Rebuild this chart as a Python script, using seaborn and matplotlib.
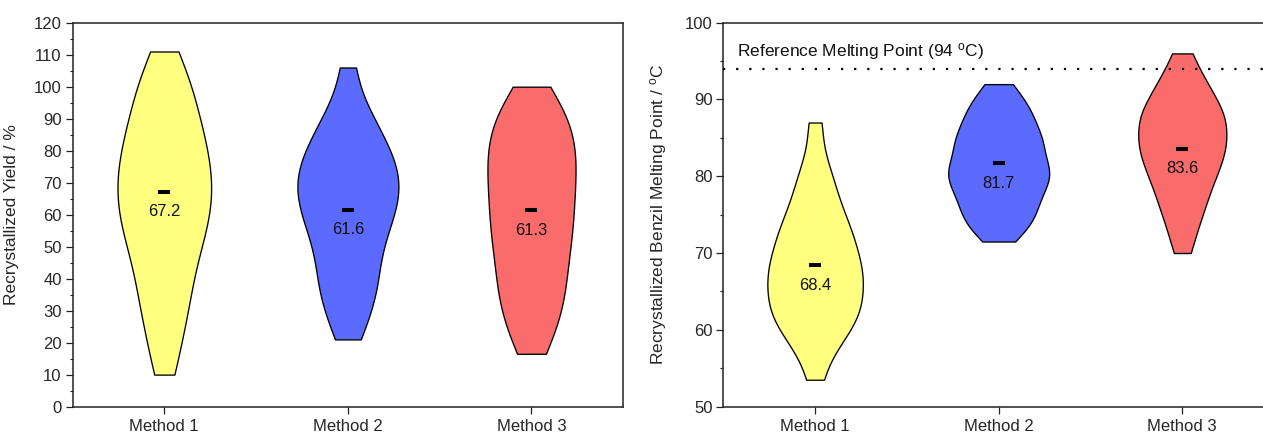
import numpy as np
import pandas as pd
import matplotlib
matplotlib.use("Agg")
import matplotlib.pyplot as plt
from matplotlib.ticker import MultipleLocator
import seaborn as sns

# ---------------- data ----------------
methods = ["Method 1", "Method 2", "Method 3"]

yield_m1 = [10, 18, 24, 29, 33, 37, 41, 44, 48, 51, 53, 56, 58, 60, 63, 65, 67, 69, 71, 73,
            76, 78, 80, 83, 85, 88, 91, 94, 98, 101, 105, 111]
yield_m2 = [21, 26, 31, 34, 37, 40, 43, 46, 49, 52, 54, 56, 59, 61, 62, 64, 66, 68, 69,
            71, 73, 75, 76, 78, 80, 83, 85, 88, 91, 96, 106]
yield_m3 = [16.5, 22, 26, 30, 33, 36, 39, 42, 45, 48, 51, 53, 56, 58, 61, 63, 66, 68,
            71, 73, 75, 78, 80, 82, 85, 87, 90, 92, 96, 100]
yield_means = [67.2, 61.6, 61.3]

mp_m1 = [53.5, 57, 58, 59.5, 60.5, 61, 62, 62.5, 63, 64, 64.5, 65.5, 66, 66.5, 67.5,
         68, 68.5, 69.5, 70, 71, 72, 72.5, 73.5, 74.5, 75.5, 77, 78.5, 80, 82.5, 87]
mp_m2 = [71.5, 73, 73.5, 74.5, 75, 76, 76.5, 77, 78, 78.5, 79, 79.5, 80, 80.5, 81,
         81.5, 82, 82.5, 83.5, 84, 84.5, 85, 85.5, 86.5, 87, 88, 88.5, 89.5, 90.5, 92]
mp_m3 = [70, 72.5, 74, 75.5, 76.5, 77.5, 78.5, 79.5, 80, 81, 81.5, 82, 83, 83.5, 84,
         84.5, 85, 85.5, 86.5, 87, 87.5, 88, 88.5, 89, 90, 91, 91.5, 92.5, 94, 96]
mp_means = [68.4, 81.7, 83.6]

ref_mp = 94
ref_label = "Reference Melting Point (94 $^{\\mathrm{o}}$C)"

yield_label = "Recrystallized Yield / %"
mp_label = "Recrystallized Benzil Melting Point / $^{\\mathrm{o}}$C"

# ---------------- style ----------------
colors = ["#FFFF80", "#5B6BFF", "#FA6B6B"]
yield_widths = [0.51, 0.55, 0.48]
mp_widths = [0.52, 0.55, 0.48]

sns.set_style("ticks")
plt.rcParams["font.family"] = ["Liberation Sans", "DejaVu Sans"]
plt.rcParams["mathtext.fontset"] = "custom"
plt.rcParams["mathtext.rm"] = "Liberation Sans"
plt.rcParams["mathtext.it"] = "Liberation Sans:italic"
plt.rcParams["mathtext.bf"] = "Liberation Sans:bold"
plt.rcParams["axes.edgecolor"] = "#222222"
plt.rcParams["axes.linewidth"] = 1.1

W, H = 1263, 433
fig = plt.figure(figsize=(W / 100, H / 100), dpi=100)
ax_h = (406.6 - 22.7) / H
ax_b = (H - 406.6) / H
ax_w = 550.8 / W
ax1 = fig.add_axes([72.5 / W, ax_b, ax_w, ax_h])
ax2 = fig.add_axes([723.3 / W, ax_b, ax_w, ax_h])


def long_df(series):
    rows = []
    for m, vals in zip(methods, series):
        for v in vals:
            rows.append((m, v))
    return pd.DataFrame(rows, columns=["method", "value"])


def draw(ax, df, widths, means, ylim, ystep, ylabel, bw):
    for i, m in enumerate(methods):
        sns.violinplot(data=df[df["method"] == m], x="method", y="value",
                       order=methods, color=colors[i], width=widths[i],
                       cut=0, inner=None, density_norm="width", bw_adjust=bw,
                       linewidth=0.95, linecolor="black", saturation=1, ax=ax)
    pos = np.arange(len(methods))
    ax.plot(pos, means, linestyle="none", marker="_", markersize=8.6,
            markeredgewidth=2.9, color="black", zorder=5)
    for p, m in zip(pos, means):
        ax.annotate(f"{m:.1f}", (p, m), xytext=(0, -14.5), textcoords="offset points",
                    ha="center", va="center", fontsize=12, color="#111111", zorder=6)
    ax.set_xlim(-0.5, 2.5)
    ax.set_ylim(*ylim)
    ax.set_yticks(np.arange(ylim[0], ylim[1] + 0.1, ystep))
    ax.yaxis.set_minor_locator(MultipleLocator(ystep / 2))
    ax.set_xlabel("")
    ax.set_ylabel(ylabel, fontsize=12.5)
    ax.yaxis.set_label_coords(-0.098, 0.5)
    ax.tick_params(axis="both", which="major", direction="out", length=4.8, width=0.9,
                   labelsize=12, pad=3, top=False, right=False, color="#222222")
    ax.tick_params(axis="y", which="minor", direction="out", length=2.4, width=0.8,
                   right=False, color="#222222")
    ax.tick_params(axis="x", which="major", pad=4)
    for s in ax.spines.values():
        s.set_visible(True)


draw(ax1, long_df([yield_m1, yield_m2, yield_m3]), yield_widths, yield_means,
     (0, 120), 10, yield_label, 0.7)
draw(ax2, long_df([mp_m1, mp_m2, mp_m3]), mp_widths, mp_means,
     (50, 100), 10, mp_label, 0.65)

ax2.axhline(ref_mp, color="black", linewidth=1.6, linestyle=(0, (1, 4.9)), zorder=4)
ax2.text(-0.425, 96.2, ref_label, ha="left", va="center", fontsize=12.5, color="#111111")

fig.savefig("out.png", dpi=100)
